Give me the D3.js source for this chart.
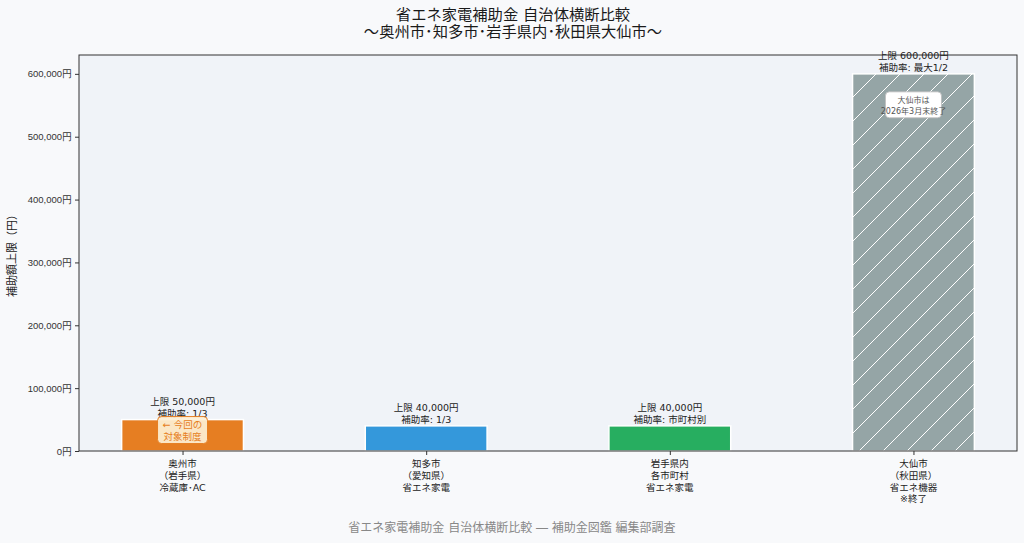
<!DOCTYPE html>
<html>
<head>
<meta charset="utf-8">
<script src="https://cdn.jsdelivr.net/npm/d3@7"></script>
<style>
    body { margin: 0; background: #f8f9fb; }
    svg { font-family: "DejaVu Sans", "Noto Sans CJK JP", sans-serif; }
</style>
</head>
<body>
<script>
    // data
    var categories = ['奥州市\n（岩手県）\n冷蔵庫･AC', '知多市\n（愛知県）\n省エネ家電', '岩手県内\n各市町村\n省エネ家電', '大仙市\n（秋田県）\n省エネ機器\n※終了'];
    var limits = [50000, 40000, 40000, 600000];
    var limitLabels = ['上限 50,000円', '上限 40,000円', '上限 40,000円', '上限 600,000円'];
    var rateLabels = ['補助率: 1/3', '補助率: 1/3', '補助率: 市町村別', '補助率: 最大1/2'];
    var barColors = ['#e67e22', '#3498db', '#27ae60', '#95a5a6'];
    var yTicks = [0, 100000, 200000, 300000, 400000, 500000, 600000];

    var W = 1024, H = 543;
    var margin = { top: 55, right: 7, bottom: 92, left: 79 };
    var width = W - margin.left - margin.right,
        height = H - margin.top - margin.bottom;

    var svg = d3.select('body').append('svg')
        .attr('width', W)
        .attr('height', H);

    var defs = svg.append('defs');
    var pat = defs.append('pattern')
        .attr('id', 'hatch')
        .attr('patternUnits', 'userSpaceOnUse')
        .attr('width', 24)
        .attr('height', 24);
    pat.append('rect').attr('width', 24).attr('height', 24).attr('fill', barColors[3]);
    pat.append('path')
        .attr('d', 'M-3,27 L27,-3 M-15,15 L15,-15 M9,39 L39,9')
        .attr('stroke', '#fff')
        .attr('stroke-width', 1);

    // titles
    svg.append('text').attr('x', W / 2 + 1).attr('y', 20).attr('text-anchor', 'middle')
        .attr('font-size', 15.3).attr('fill', '#1a1a1a')
        .text('省エネ家電補助金 自治体横断比較');
    svg.append('text').attr('x', W / 2 + 1).attr('y', 37).attr('text-anchor', 'middle')
        .attr('font-size', 15.3).attr('fill', '#1a1a1a')
        .text('〜奥州市･知多市･岩手県内･秋田県大仙市〜');

    var g = svg.append('g').attr('transform', 'translate(' + margin.left + ',' + margin.top + ')');

    g.append('rect').attr('width', width).attr('height', height).attr('fill', '#f0f3f8');

    var x = d3.scaleLinear().domain([-0.425, 3.425]).range([0, width]);
    var y = d3.scaleLinear().domain([0, 630000]).range([height, 0]);
    var bw = x(0.5) - x(0);

    g.selectAll('rect.bar')
        .data(limits)
        .enter().append('rect')
        .attr('class', 'bar')
        .attr('x', function (d, i) { return x(i) - bw / 2; })
        .attr('y', function (d) { return y(d); })
        .attr('width', bw)
        .attr('height', function (d) { return height - y(d); })
        .attr('fill', function (d, i) { return i == 3 ? 'url(#hatch)' : barColors[i]; })
        .attr('stroke', '#fff')
        .attr('stroke-width', 1.5);

    // axes
    var yAxis = g.append('g')
        .call(d3.axisLeft(y).tickValues(yTicks).tickSize(4).tickPadding(3)
            .tickFormat(function (d) { return d3.format(',')(d) + '円'; }));
    yAxis.select('.domain').remove();
    yAxis.selectAll('text').attr('font-size', 9.5).attr('fill', '#333');
    yAxis.selectAll('line').attr('stroke', '#333');

    var xAxis = g.append('g')
        .attr('transform', 'translate(0,' + height + ')')
        .call(d3.axisBottom(x).tickValues([0, 1, 2, 3]).tickSize(4).tickFormat(''));
    xAxis.select('.domain').remove();
    xAxis.selectAll('line').attr('stroke', '#333');

    categories.forEach(function (c, i) {
        c.split('\n').forEach(function (line, j) {
            g.append('text')
                .attr('x', x(i))
                .attr('y', height + 16 + j * 11.8)
                .attr('text-anchor', 'middle')
                .attr('font-size', 9.5)
                .attr('fill', '#222')
                .text(line);
        });
    });

    // frame
    g.append('rect').attr('width', width).attr('height', height)
        .attr('fill', 'none').attr('stroke', '#333').attr('stroke-width', 1);

    // bar labels
    limits.forEach(function (d, i) {
        g.append('text').attr('x', x(i)).attr('y', y(d) - 15)
            .attr('text-anchor', 'middle').attr('font-size', 9.5).attr('fill', '#222')
            .text(limitLabels[i]);
        g.append('text').attr('x', x(i)).attr('y', y(d) - 3)
            .attr('text-anchor', 'middle').attr('font-size', 9.5).attr('fill', '#222')
            .text(rateLabels[i]);
    });

    // notes
    var n1 = g.append('g').attr('transform', 'translate(' + x(0) + ',' + (y(limits[0]) + 10) + ')');
    n1.append('rect').attr('x', -25).attr('y', -13).attr('width', 50).attr('height', 27).attr('rx', 4)
        .attr('fill', '#fdf0d5').attr('fill-opacity', 0.92).attr('stroke', '#e67e22').attr('stroke-width', 1);
    n1.append('text').attr('text-anchor', 'middle').attr('y', -2).attr('font-size', 9.5).attr('fill', '#e67e22').text('← 今回の');
    n1.append('text').attr('text-anchor', 'middle').attr('y', 10).attr('font-size', 9.5).attr('fill', '#e67e22').text('対象制度');

    var n2 = g.append('g').attr('transform', 'translate(' + x(3) + ',' + (y(limits[3]) + 31) + ')');
    n2.append('rect').attr('x', -28).attr('y', -13).attr('width', 56).attr('height', 26).attr('rx', 4)
        .attr('fill', '#fff').attr('stroke', '#bbb').attr('stroke-width', 0.8);
    n2.append('text').attr('text-anchor', 'middle').attr('y', -2).attr('font-size', 8).attr('fill', '#555').text('大仙市は');
    n2.append('text').attr('text-anchor', 'middle').attr('y', 9).attr('font-size', 8).attr('fill', '#555').text('2026年3月末終了');

    // y label
    svg.append('text')
        .attr('transform', 'translate(16,' + (margin.top + height / 2) + ') rotate(-90)')
        .attr('text-anchor', 'middle').attr('font-size', 11).attr('fill', '#222')
        .text('補助額上限（円）');

    // footer
    svg.append('text').attr('x', W / 2).attr('y', 532).attr('text-anchor', 'middle')
        .attr('font-size', 12).attr('fill', '#888')
        .text('省エネ家電補助金 自治体横断比較 ― 補助金図鑑 編集部調査');
</script>
</body>
</html>
